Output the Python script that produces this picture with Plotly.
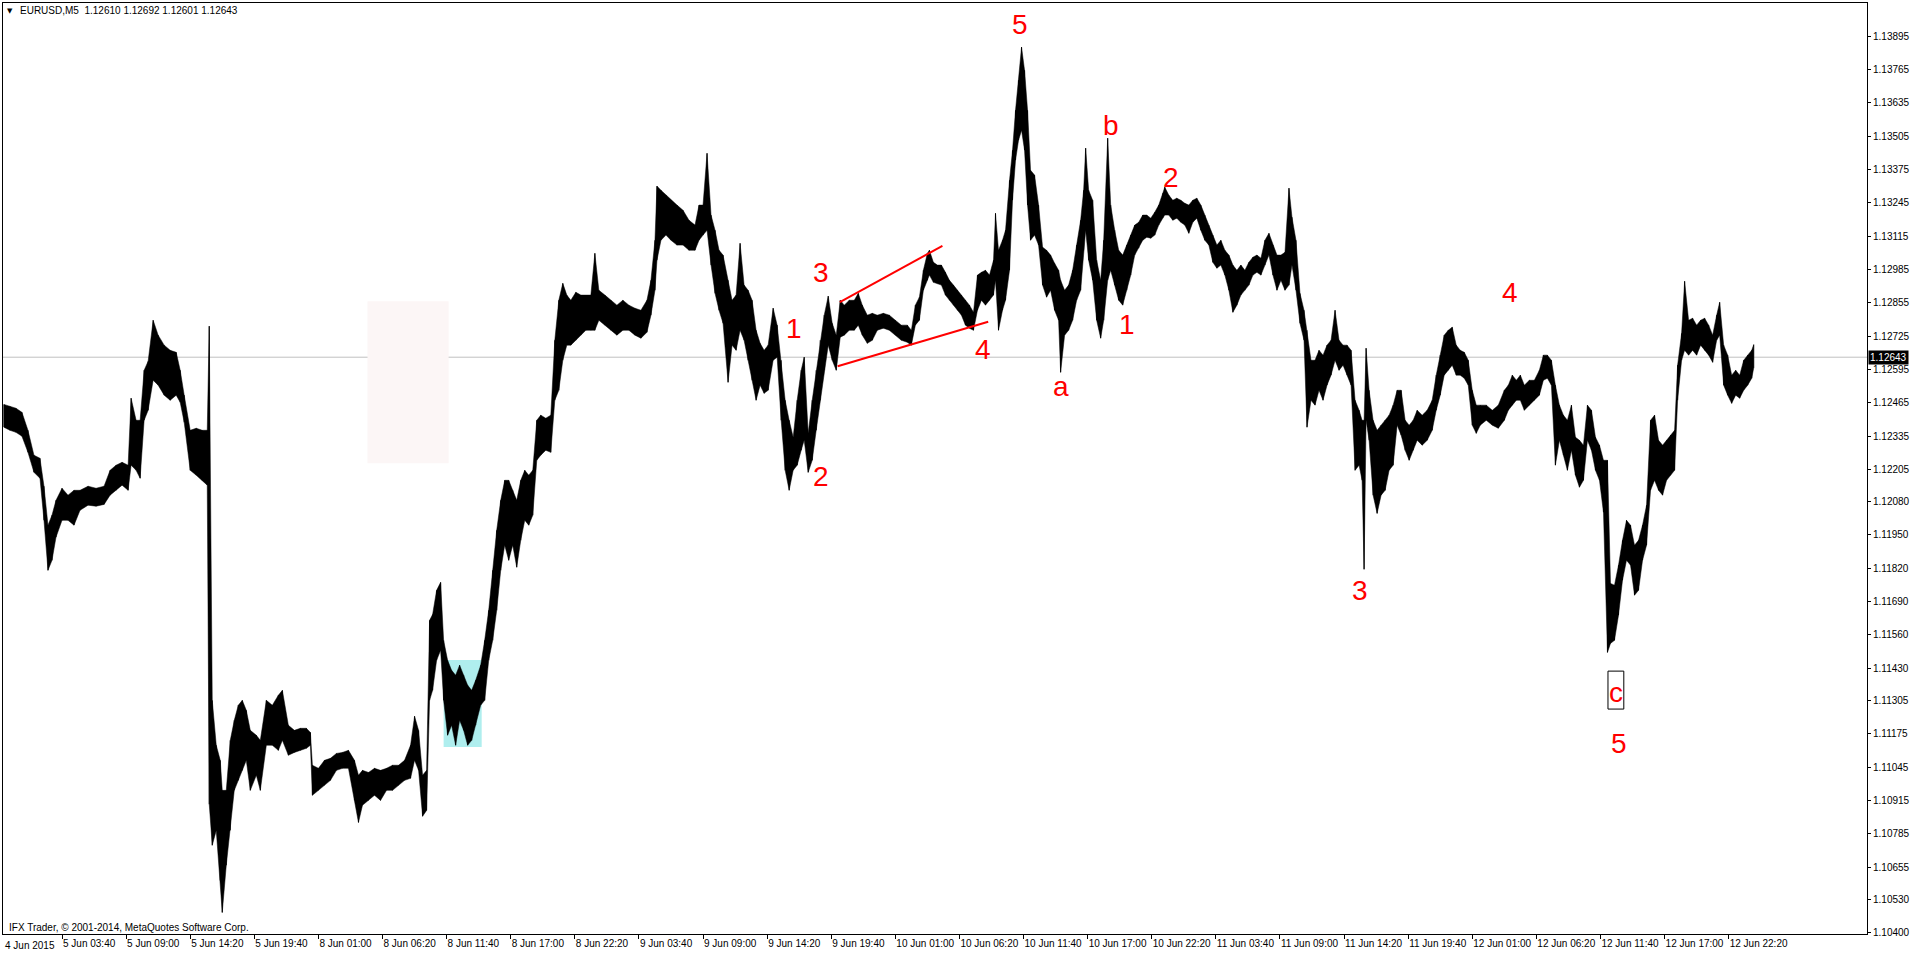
import plotly.graph_objects as go

# ---- data (bar index, M5 bars; high / low envelope) ----
bars = [6, 12, 18, 24, 30, 36, 42, 46, 50, 54, 58, 64, 70, 76, 82, 90, 98, 106, 112, 118,
        124, 130, 133, 138, 142, 146, 150, 155, 160, 166, 172, 178, 182, 186, 192, 198, 204, 209, 211,
        214, 218, 222, 224, 228, 232, 236, 240, 244, 248, 252, 258, 262, 268, 274, 280, 284, 290, 296, 302, 308, 312,
        314, 320, 326, 332, 338, 344, 350, 356, 360, 364, 370, 376, 382, 388, 394, 400, 406, 412, 416, 420, 424, 428,
        431, 434, 438, 442, 445, 449, 453, 457, 461, 465, 469, 473, 477, 482,
        486, 490, 494, 498, 502, 506, 510, 514, 518, 522, 526, 530, 534, 538, 542, 547, 552, 556, 560, 564, 568, 572,
        577, 582, 587, 592, 596, 600, 606, 612, 618, 624, 630, 636, 642, 648, 652, 656, 658, 662, 667, 672, 678, 684,
        690, 696, 700, 704, 708, 712, 716, 720, 724, 729, 733, 737, 741, 745, 749, 753, 757, 761, 765, 769, 774, 778,
        782, 786, 790, 794, 798, 802, 805, 809, 813, 817, 821, 825, 829, 833, 837, 841, 845, 850, 855, 859, 863, 868,
        873, 878, 884, 890, 896, 902, 908, 912, 916, 920, 924, 928, 930, 934, 938, 942, 946, 950, 954, 958, 962, 966,
        970, 974, 978, 982, 986, 990, 994, 996, 999, 1003, 1006, 1010, 1013, 1016, 1019, 1022, 1025, 1028, 1031, 1035,
        1039, 1043, 1047, 1051, 1055, 1059, 1061, 1065, 1069, 1073, 1077, 1081, 1084, 1086, 1089, 1093, 1097, 1101,
        1104, 1108, 1111, 1115, 1119, 1123, 1127, 1131, 1135, 1139, 1143, 1147, 1151, 1155, 1159, 1163, 1165, 1169,
        1173, 1177, 1181, 1185, 1189, 1193, 1197, 1201, 1205, 1209, 1213, 1217, 1221, 1225, 1229, 1233, 1237, 1241,
        1245, 1249, 1253, 1257, 1261, 1265, 1269, 1273, 1277, 1281, 1285, 1289, 1292, 1296, 1300, 1304, 1307, 1311,
        1315, 1319, 1323, 1327, 1331, 1335, 1339, 1343, 1347, 1351, 1355, 1359, 1362, 1364, 1366, 1369, 1373, 1377,
        1381, 1385, 1389, 1393, 1397, 1401, 1405, 1409, 1413, 1417, 1422, 1427, 1432, 1436, 1440, 1444, 1448, 1452,
        1456, 1460, 1464, 1468, 1472, 1476, 1480, 1486, 1492, 1498, 1504, 1508, 1512, 1516, 1520, 1524, 1529, 1534,
        1539, 1543, 1547, 1551, 1555, 1559, 1563, 1567, 1571, 1575, 1579, 1583, 1587, 1591, 1595, 1599, 1603, 1607,
        1610, 1614, 1618, 1622, 1626, 1630, 1634, 1638, 1642, 1646, 1650, 1654, 1658, 1662, 1666, 1670, 1674, 1677,
        1681, 1684, 1688, 1692, 1696, 1700, 1704, 1708, 1712, 1716, 1719, 1723, 1727, 1731, 1735, 1739, 1743, 1747,
        1751, 1753]

highs = [1.12459, 1.12452, 1.12444, 1.12428, 1.12358, 1.12261, 1.12249, 1.12140, 1.11988, 1.12027, 1.12085, 1.12132,
         1.12105, 1.12124, 1.12124, 1.12140, 1.12132, 1.12140, 1.12202, 1.12222, 1.12233, 1.12222, 1.12483, 1.12397,
         1.12397, 1.12592, 1.12627, 1.12787, 1.12729, 1.12690, 1.12670, 1.12662, 1.12592, 1.12495, 1.12358, 1.12366,
         1.12358, 1.12358, 1.12764,
         1.11305, 1.11130, 1.11071, 1.10954, 1.10954, 1.11149, 1.11227, 1.11286, 1.11305, 1.11266, 1.11188, 1.11169,
         1.11149, 1.11305, 1.11286, 1.11325, 1.11344, 1.11208, 1.11188, 1.11196, 1.11196, 1.11180,
         1.11052, 1.11040, 1.11071, 1.11079, 1.11098, 1.11102, 1.11110, 1.11071, 1.11013, 1.11032, 1.11024, 1.11040,
         1.11032, 1.11040, 1.11052, 1.11052, 1.11071, 1.11130, 1.11243, 1.11188, 1.11013, 1.11032,
         1.11617, 1.11640, 1.11734, 1.11765, 1.11539, 1.11461, 1.11422, 1.11403, 1.11442, 1.11403, 1.11364, 1.11344,
         1.11383, 1.11442,
         1.11539, 1.11656, 1.11812, 1.11968, 1.12085, 1.12163, 1.12163, 1.12124, 1.12085, 1.12163, 1.12202, 1.12183,
         1.12202, 1.12397, 1.12417, 1.12405, 1.12417, 1.12709, 1.12865, 1.12931, 1.12885, 1.12865,
         1.12896, 1.12885, 1.12885, 1.12885, 1.13048, 1.12904, 1.12885, 1.12865, 1.12846, 1.12865, 1.12846, 1.12834,
         1.12826, 1.12865, 1.12943, 1.13099, 1.13310, 1.13294, 1.13275, 1.13255, 1.13236, 1.13216,
         1.13177, 1.13158, 1.13236, 1.13236, 1.13438, 1.13197, 1.13138, 1.13060, 1.13041, 1.12943, 1.12865, 1.12885,
         1.13087, 1.12924, 1.12904, 1.12865, 1.12748, 1.12697, 1.12670, 1.12690, 1.12834, 1.12768,
         1.12631, 1.12475, 1.12397, 1.12331, 1.12475, 1.12592, 1.12643, 1.12346, 1.12475, 1.12592, 1.12709, 1.12807,
         1.12881, 1.12775, 1.12729, 1.12865, 1.12846, 1.12865, 1.12865, 1.12892, 1.12846, 1.12807,
         1.12814, 1.12807, 1.12814, 1.12807, 1.12787, 1.12768, 1.12768, 1.12748, 1.12846, 1.12877, 1.12982, 1.13048,
         1.13060, 1.13013, 1.13002, 1.13002, 1.12974, 1.12943, 1.12924, 1.12904, 1.12885, 1.12865,
         1.12846, 1.12818, 1.12963, 1.12974, 1.12982, 1.12963, 1.13021, 1.13204, 1.13060, 1.13099, 1.13138, 1.13333,
         1.13450, 1.13606, 1.13723, 1.13852, 1.13762, 1.13606, 1.13372, 1.13353,
         1.13236, 1.13072, 1.13060, 1.13041, 1.13009, 1.12982, 1.12943, 1.12904, 1.12924, 1.12982, 1.13080, 1.13177,
         1.13294, 1.13458, 1.13294, 1.13255, 1.13021, 1.12943,
         1.13099, 1.13497, 1.13236, 1.13138, 1.13060, 1.13041, 1.13080, 1.13119, 1.13158, 1.13169, 1.13197, 1.13197,
         1.13185, 1.13208, 1.13236, 1.13282, 1.13306, 1.13275,
         1.13255, 1.13263, 1.13255, 1.13243, 1.13236, 1.13255, 1.13263, 1.13236, 1.13197, 1.13158, 1.13119, 1.13080,
         1.13099, 1.13060, 1.13041, 1.13002, 1.12982, 1.13002,
         1.12982, 1.13013, 1.13033, 1.13041, 1.13029, 1.13099, 1.13126, 1.13080, 1.13041, 1.13041, 1.13052, 1.13302,
         1.13189, 1.13099, 1.12892, 1.12826, 1.12748, 1.12631,
         1.12631, 1.12670, 1.12651, 1.12690, 1.12709, 1.12826, 1.12709, 1.12690, 1.12690, 1.12670, 1.12475, 1.12436,
         1.12397, 1.12397, 1.12678, 1.12514, 1.12397, 1.12358,
         1.12378, 1.12397, 1.12417, 1.12456, 1.12514, 1.12514, 1.12397, 1.12378, 1.12397, 1.12436, 1.12417, 1.12436,
         1.12475, 1.12573, 1.12651, 1.12729, 1.12748, 1.12760,
         1.12690, 1.12670, 1.12662, 1.12631, 1.12514, 1.12456, 1.12456, 1.12456, 1.12436, 1.12456, 1.12514, 1.12534,
         1.12573, 1.12553, 1.12573, 1.12534, 1.12553, 1.12553,
         1.12592, 1.12651, 1.12651, 1.12631, 1.12534, 1.12456, 1.12417, 1.12397, 1.12456, 1.12331, 1.12319, 1.12300,
         1.12456, 1.12436, 1.12331, 1.12300, 1.12241, 1.12241,
         1.11761, 1.11754, 1.11832, 1.11929, 1.12007, 1.11988, 1.11910, 1.11929, 1.11988, 1.12066, 1.12397, 1.12417,
         1.12319, 1.12300, 1.12319, 1.12339, 1.12358, 1.12612,
         1.12736, 1.12939, 1.12787, 1.12795, 1.12768, 1.12787, 1.12795, 1.12768, 1.12729, 1.12807, 1.12857, 1.12690,
         1.12651, 1.12573, 1.12592, 1.12573, 1.12631, 1.12651,
         1.12670, 1.12692]

lows = [1.12370, 1.12358, 1.12350, 1.12335, 1.12272, 1.12194, 1.12171, 1.12007, 1.11812, 1.11851, 1.11941, 1.12007,
        1.12007, 1.11988, 1.12046, 1.12066, 1.12062, 1.12069, 1.12105, 1.12124, 1.12144, 1.12124, 1.12222, 1.12202,
        1.12171, 1.12397, 1.12436, 1.12553, 1.12534, 1.12495, 1.12475, 1.12495, 1.12467, 1.12389, 1.12202, 1.12183,
        1.12163, 1.12144, 1.10900,
        1.10740, 1.10798, 1.10603, 1.10478, 1.10662, 1.10798, 1.10954, 1.10993, 1.11032, 1.11071, 1.10954, 1.11013,
        1.10954, 1.11130, 1.11130, 1.11110, 1.11149, 1.11091, 1.11102, 1.11110, 1.11118, 1.11130,
        1.10935, 1.10954, 1.10974, 1.10993, 1.11032, 1.11040, 1.11040, 1.10915, 1.10829, 1.10896, 1.10915, 1.10935,
        1.10915, 1.10954, 1.10954, 1.10974, 1.10993, 1.11001, 1.11071, 1.11032, 1.10853, 1.10876,
        1.11305, 1.11344, 1.11461, 1.11500, 1.11305, 1.11169, 1.11208, 1.11130, 1.11227, 1.11188, 1.11130, 1.11149,
        1.11208, 1.11286,
        1.11305, 1.11461, 1.11539, 1.11656, 1.11812, 1.11910, 1.11851, 1.11910, 1.11824, 1.11929, 1.12007, 1.11988,
        1.12027, 1.12241, 1.12261, 1.12280, 1.12272, 1.12475, 1.12514, 1.12631, 1.12690, 1.12690,
        1.12709, 1.12729, 1.12748, 1.12748, 1.12748, 1.12787, 1.12768, 1.12748, 1.12729, 1.12748, 1.12748, 1.12729,
        1.12717, 1.12740, 1.12807, 1.12904, 1.13021, 1.13099, 1.13119, 1.13099, 1.13080, 1.13080,
        1.13060, 1.13060, 1.13099, 1.13119, 1.13138, 1.13002, 1.12892, 1.12826, 1.12775, 1.12545, 1.12690, 1.12670,
        1.12748, 1.12709, 1.12631, 1.12553, 1.12475, 1.12534, 1.12502, 1.12514, 1.12631, 1.12643,
        1.12397, 1.12202, 1.12124, 1.12202, 1.12222, 1.12280, 1.12319, 1.12194, 1.12241, 1.12358, 1.12475, 1.12592,
        1.12690, 1.12631, 1.12592, 1.12721, 1.12729, 1.12748, 1.12748, 1.12768, 1.12729, 1.12697,
        1.12709, 1.12748, 1.12756, 1.12748, 1.12729, 1.12709, 1.12701, 1.12690, 1.12768, 1.12787, 1.12904, 1.12943,
        1.12963, 1.12935, 1.12931, 1.12924, 1.12885, 1.12865, 1.12846, 1.12826, 1.12807, 1.12768,
        1.12756, 1.12748, 1.12826, 1.12865, 1.12846, 1.12865, 1.12885, 1.12943, 1.12748, 1.12826, 1.12865, 1.12982,
        1.13255, 1.13411, 1.13489, 1.13528, 1.13450, 1.13236, 1.13099, 1.13119,
        1.13080, 1.12924, 1.12877, 1.12904, 1.12826, 1.12787, 1.12584, 1.12729, 1.12748, 1.12787, 1.12865, 1.12904,
        1.13060, 1.13138, 1.13021, 1.12943, 1.12787, 1.12717,
        1.12787, 1.12943, 1.12982, 1.12924, 1.12865, 1.12846, 1.12904, 1.12963, 1.13041, 1.13068, 1.13099, 1.13111,
        1.13107, 1.13119, 1.13158, 1.13185, 1.13197, 1.13197,
        1.13177, 1.13185, 1.13169, 1.13158, 1.13126, 1.13169, 1.13185, 1.13138, 1.13099, 1.13080, 1.13013, 1.12990,
        1.13002, 1.12963, 1.12904, 1.12818, 1.12846, 1.12885,
        1.12904, 1.12924, 1.12963, 1.12974, 1.12963, 1.13002, 1.13041, 1.12963, 1.12904, 1.12943, 1.12904, 1.12924,
        1.13002, 1.12904, 1.12775, 1.12709, 1.12370, 1.12475,
        1.12456, 1.12514, 1.12475, 1.12534, 1.12573, 1.12631, 1.12592, 1.12612, 1.12573, 1.12534, 1.12202, 1.12222,
        1.12163, 1.11816, 1.12397, 1.12319, 1.12105, 1.12034,
        1.12105, 1.12124, 1.12202, 1.12222, 1.12378, 1.12339, 1.12280, 1.12241, 1.12280, 1.12319, 1.12300, 1.12319,
        1.12358, 1.12436, 1.12495, 1.12573, 1.12592, 1.12612,
        1.12573, 1.12573, 1.12561, 1.12534, 1.12378, 1.12346, 1.12378, 1.12397, 1.12378, 1.12366, 1.12397, 1.12436,
        1.12456, 1.12475, 1.12475, 1.12436, 1.12456, 1.12475,
        1.12495, 1.12553, 1.12561, 1.12534, 1.12222, 1.12319, 1.12261, 1.12202, 1.12280, 1.12183, 1.12136, 1.12163,
        1.12319, 1.12280, 1.12202, 1.12163, 1.12038, 1.11492,
        1.11527, 1.11539, 1.11637, 1.11773, 1.11851, 1.11832, 1.11715, 1.11734, 1.11851, 1.11910, 1.12124, 1.12163,
        1.12124, 1.12105, 1.12163, 1.12183, 1.12202, 1.12475,
        1.12631, 1.12670, 1.12651, 1.12670, 1.12651, 1.12690, 1.12670, 1.12651, 1.12623, 1.12709, 1.12729, 1.12534,
        1.12495, 1.12463, 1.12495, 1.12483, 1.12514, 1.12534,
        1.12561, 1.12601]

# last bar OHLC shown in the header
last_ohlc = ["1.12610", "1.12692", "1.12601", "1.12643"]
last_close = 1.12643

# time axis labels (one every 64 M5 bars)
time_labels = ["5 Jun 03:40", "5 Jun 09:00", "5 Jun 14:20", "5 Jun 19:40", "8 Jun 01:00", "8 Jun 06:20",
               "8 Jun 11:40", "8 Jun 17:00", "8 Jun 22:20", "9 Jun 03:40", "9 Jun 09:00", "9 Jun 14:20",
               "9 Jun 19:40", "10 Jun 01:00", "10 Jun 06:20", "10 Jun 11:40", "10 Jun 17:00", "10 Jun 22:20",
               "11 Jun 03:40", "11 Jun 09:00", "11 Jun 14:20", "11 Jun 19:40", "12 Jun 01:00", "12 Jun 06:20",
               "12 Jun 11:40", "12 Jun 17:00", "12 Jun 22:20"]
time_tick_bars = [64 * (k + 1) for k in range(len(time_labels))]

# price axis labels
price_labels = ["1.13895", "1.13765", "1.13635", "1.13505", "1.13375", "1.13245", "1.13115", "1.12985",
                "1.12855", "1.12725", "1.12595", "1.12465", "1.12335", "1.12205", "1.12080", "1.11950",
                "1.11820", "1.11690", "1.11560", "1.11430", "1.11305", "1.11175", "1.11045", "1.10915",
                "1.10785", "1.10655", "1.10530", "1.10400"]
price_ticks = [float(s) for s in price_labels]

# Elliott wave labels: (bar, price, text)
wave_bars = [1020.7, 1111, 1171.5, 1127, 1061, 984, 795, 821.6, 821.6, 1509.5, 1359.5, 1618.5]
wave_prices = [1.13939, 1.13548, 1.13345, 1.12771, 1.12530, 1.12674, 1.12756, 1.12975, 1.12179, 1.12894,
               1.11734, 1.11137]
wave_texts = ["5", "b", "2", "1", "a", "4", "1", "3", "2", "4", "3", "5"]

# "c" boxed label
c_label = {"bar": 1615, "price": 1.11336}
c_box = {"b0": 1607.5, "b1": 1623.3, "p0": 1.11271, "p1": 1.11419}

# red wedge trend lines
wedge_upper_bars = [840.6, 943]
wedge_upper_prices = [1.12858, 1.13077]
wedge_lower_bars = [838.4, 988.7]
wedge_lower_prices = [1.12608, 1.12781]

# highlight rectangles (bar range, price range)
pink_rect = {"b0": 369, "b1": 450, "p0": 1.12229, "p1": 1.12861}
cyan_rect = {"b0": 445, "b1": 483, "p0": 1.11123, "p1": 1.11462}

FONT = "Liberation Sans, Arial, sans-serif"

fig = go.Figure()

fig.add_shape(type="rect", x0=pink_rect["b0"], x1=pink_rect["b1"], y0=pink_rect["p0"], y1=pink_rect["p1"],
              fillcolor="#fcf6f6", line_width=0, layer="below")
fig.add_shape(type="rect", x0=cyan_rect["b0"], x1=cyan_rect["b1"], y0=cyan_rect["p0"], y1=cyan_rect["p1"],
              fillcolor="#afeeee", line_width=0, layer="below")
fig.add_shape(type="line", xref="paper", x0=0, x1=1, y0=last_close, y1=last_close,
              line=dict(color="#c0c0c0", width=1), layer="below")
fig.add_shape(type="rect", x0=c_box["b0"], x1=c_box["b1"], y0=c_box["p0"], y1=c_box["p1"],
              line=dict(color="black", width=1), fillcolor="rgba(0,0,0,0)")

# price envelope
fig.add_trace(go.Scatter(x=bars, y=highs, mode="lines", line=dict(color="black", width=0.5),
                         hoverinfo="skip", showlegend=False))
fig.add_trace(go.Scatter(x=bars, y=lows, mode="lines", line=dict(color="black", width=0.5),
                         fill="tonexty", fillcolor="black", hoverinfo="skip", showlegend=False))
vx, vy = [], []
for b, h, l in zip(bars, highs, lows):
    vx += [b, b, None]
    vy += [h, l, None]
fig.add_trace(go.Scatter(x=vx, y=vy, mode="lines", line=dict(color="black", width=1),
                         hoverinfo="skip", showlegend=False))

# wedge lines
fig.add_trace(go.Scatter(x=wedge_upper_bars, y=wedge_upper_prices, mode="lines",
                         line=dict(color="#ff0000", width=2), hoverinfo="skip", showlegend=False))
fig.add_trace(go.Scatter(x=wedge_lower_bars, y=wedge_lower_prices, mode="lines",
                         line=dict(color="#ff0000", width=2), hoverinfo="skip", showlegend=False))

for b, p, t in zip(wave_bars, wave_prices, wave_texts):
    fig.add_annotation(x=b, y=p, text=t, showarrow=False, xanchor="center", yanchor="middle",
                       font=dict(family=FONT, size=28, color="#ff0000"))

fig.add_annotation(x=c_label["bar"], y=c_label["price"], text="c", showarrow=False,
                   xanchor="center", yanchor="middle", font=dict(family=FONT, size=28, color="#ff0000"))

# header
fig.add_annotation(xref="paper", yref="paper", x=0.0012, y=0.9915, text="\u25bc", showarrow=False,
                   xanchor="left", yanchor="middle", font=dict(family="DejaVu Sans", size=7, color="black"))
fig.add_annotation(xref="paper", yref="paper", x=0.0080, y=0.9915,
                   text="EURUSD,M5\u00a0\u00a0" + " ".join(last_ohlc), showarrow=False,
                   xanchor="left", yanchor="middle", font=dict(family=FONT, size=10, color="black"))
fig.add_annotation(xref="paper", yref="paper", x=0.0022, y=0.0065,
                   text="IFX Trader, \u00a9 2001-2014, MetaQuotes Software Corp.", showarrow=False,
                   xanchor="left", yanchor="middle", font=dict(family=FONT, size=10, color="black"))
fig.add_annotation(xref="paper", yref="paper", x=0.0, y=-0.012, text="4 Jun 2015", showarrow=False,
                   xanchor="left", yanchor="middle", font=dict(family=FONT, size=10, color="black"))
# current price marker
fig.add_annotation(xref="paper", yref="y", x=1.0, xshift=1, y=last_close, text=last_ohlc[3],
                   showarrow=False, xanchor="left", yanchor="middle",
                   font=dict(family=FONT, size=10, color="white"), bgcolor="black", borderpad=1)

fig.update_layout(
    width=1910, height=954,
    margin=dict(l=3, r=43, t=3, b=20, autoexpand=False),
    paper_bgcolor="white", plot_bgcolor="white",
    showlegend=False,
    xaxis=dict(range=[5.09, 1866.1], showgrid=False, zeroline=False, showline=True, mirror=True,
               linecolor="black", linewidth=1, ticks="outside", ticklen=4, tickcolor="black",
               tickvals=time_tick_bars, ticktext=time_labels, ticklabelposition="outside right",
               tickangle=0, automargin=False,
               tickfont=dict(family=FONT, size=10, color="black")),
    yaxis=dict(range=[1.10394, 1.14024], side="right", showgrid=False, zeroline=False, showline=True,
               mirror=True, linecolor="black", linewidth=1, ticks="outside", ticklen=3, tickcolor="black",
               tickvals=price_ticks, ticktext=price_labels, automargin=False,
               tickfont=dict(family=FONT, size=10, color="black")),
)

fig.write_html("out.html", include_plotlyjs=True, config={"displayModeBar": False},
               post_script="document.body.style.margin='0';document.body.style.overflow='hidden';")
